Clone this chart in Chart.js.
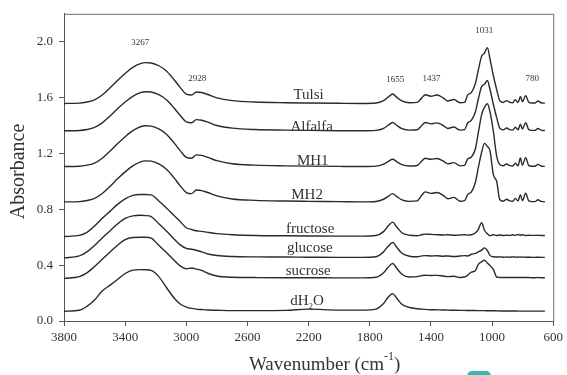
<!DOCTYPE html>
<html>
<head>
<meta charset="utf-8">
<script src="https://cdn.jsdelivr.net/npm/chart.js@4.4.1/dist/chart.umd.min.js"></script>
<style>
  html, body { margin: 0; padding: 0; background: #fff; }
  #wrap { position: relative; width: 567px; height: 375px; overflow: hidden; }
  #blob { position: absolute; left: 467px; top: 371px; width: 24px; height: 10px; border-radius: 5px; background: #3bb8b2; }
</style>
</head>
<body>
<div id="wrap">
  <canvas id="c" width="567" height="375"></canvas>
  <div id="blob"></div>
</div>
<script>
// ---- data ----
const wavenumbers = [3800,3700,3650,3600,3550,3500,3450,3400,3350,3300,
  3267,3230,3180,3130,3080,3040,3000,2965,2935,2900,
  2860,2800,2700,2550,2350,2200,2000,1850,1760,1710,
  1680,1650,1625,1590,1540,1490,1460,1437,1400,1360,
  1320,1290,1250,1210,1180,1160,1135,1110,1090,1068,
  1050,1031,1014,992,970,950,927,905,885,865,
  848,830,815,802,780,760,740,720,700,680,
  655];

const tulsi = [1.558,1.560,1.568,1.583,1.618,1.668,1.723,1.773,1.816,1.843,
  1.850,1.848,1.828,1.790,1.728,1.673,1.624,1.618,1.640,1.636,
  1.622,1.598,1.578,1.568,1.563,1.561,1.559,1.558,1.561,1.578,
  1.603,1.626,1.603,1.576,1.563,1.566,1.598,1.620,1.610,1.618,
  1.598,1.576,1.586,1.563,1.566,1.618,1.638,1.698,1.798,1.898,
  1.918,1.958,1.878,1.758,1.658,1.578,1.565,1.578,1.566,1.563,
  1.585,1.565,1.608,1.571,1.613,1.566,1.561,1.561,1.576,1.563,
  1.560];

const alfalfa = [1.362,1.364,1.371,1.386,1.419,1.467,1.520,1.568,1.609,1.635,
  1.642,1.640,1.621,1.585,1.525,1.472,1.426,1.420,1.442,1.438,
  1.424,1.400,1.381,1.371,1.367,1.365,1.363,1.362,1.365,1.380,
  1.402,1.422,1.402,1.378,1.367,1.370,1.400,1.422,1.412,1.419,
  1.400,1.379,1.389,1.367,1.370,1.418,1.438,1.495,1.590,1.680,
  1.695,1.722,1.660,1.552,1.456,1.382,1.369,1.382,1.370,1.367,
  1.388,1.369,1.410,1.375,1.420,1.370,1.365,1.365,1.379,1.367,
  1.364];

const mh1 = [1.106,1.108,1.116,1.131,1.166,1.216,1.270,1.320,1.363,1.391,
  1.398,1.396,1.376,1.338,1.276,1.220,1.172,1.166,1.190,1.186,
  1.172,1.148,1.126,1.116,1.111,1.109,1.107,1.106,1.109,1.124,
  1.142,1.158,1.142,1.120,1.110,1.114,1.146,1.166,1.158,1.164,
  1.146,1.125,1.134,1.111,1.114,1.160,1.175,1.230,1.350,1.480,
  1.530,1.556,1.500,1.360,1.180,1.120,1.112,1.124,1.113,1.110,
  1.130,1.112,1.168,1.116,1.170,1.112,1.108,1.108,1.122,1.110,
  1.107];

const mh2 = [0.853,0.855,0.863,0.878,0.913,0.963,1.018,1.068,1.111,1.140,
  1.147,1.145,1.125,1.087,1.025,0.968,0.920,0.912,0.938,0.934,
  0.920,0.896,0.874,0.864,0.859,0.857,0.855,0.853,0.856,0.872,
  0.892,0.912,0.893,0.868,0.857,0.860,0.900,0.925,0.914,0.920,
  0.900,0.876,0.885,0.858,0.862,0.905,0.925,0.990,1.100,1.210,
  1.272,1.250,1.220,1.050,1.000,0.870,0.858,0.872,0.860,0.858,
  0.878,0.860,0.905,0.862,0.915,0.860,0.855,0.855,0.868,0.857,
  0.854];

const fructose = [0.605,0.613,0.635,0.680,0.735,0.785,0.835,0.875,0.900,0.906,
  0.906,0.903,0.860,0.810,0.755,0.712,0.668,0.655,0.646,0.642,
  0.635,0.626,0.618,0.612,0.610,0.609,0.608,0.608,0.612,0.640,
  0.680,0.708,0.675,0.632,0.614,0.611,0.618,0.622,0.620,0.618,
  0.616,0.618,0.614,0.616,0.618,0.615,0.618,0.630,0.657,0.704,
  0.650,0.625,0.611,0.618,0.612,0.616,0.612,0.614,0.612,0.618,
  0.613,0.619,0.614,0.618,0.612,0.614,0.613,0.613,0.614,0.612,
  0.612];

const glucose = [0.452,0.466,0.495,0.540,0.595,0.645,0.695,0.735,0.753,0.757,
  0.755,0.748,0.697,0.645,0.588,0.545,0.520,0.514,0.507,0.495,
  0.480,0.469,0.462,0.459,0.458,0.457,0.456,0.456,0.460,0.495,
  0.535,0.562,0.530,0.485,0.464,0.460,0.466,0.468,0.466,0.467,
  0.464,0.466,0.462,0.465,0.468,0.466,0.478,0.484,0.495,0.508,
  0.524,0.505,0.470,0.460,0.458,0.459,0.457,0.458,0.457,0.459,
  0.457,0.458,0.457,0.458,0.457,0.457,0.456,0.456,0.457,0.456,
  0.456];

const sucrose = [0.305,0.318,0.345,0.390,0.442,0.493,0.543,0.583,0.598,0.600,
  0.600,0.594,0.542,0.490,0.435,0.395,0.374,0.380,0.372,0.362,
  0.342,0.322,0.313,0.311,0.310,0.310,0.309,0.309,0.313,0.345,
  0.385,0.412,0.380,0.335,0.315,0.318,0.325,0.328,0.326,0.327,
  0.322,0.318,0.320,0.312,0.315,0.328,0.350,0.360,0.405,0.425,
  0.435,0.415,0.398,0.370,0.315,0.312,0.311,0.312,0.311,0.312,
  0.311,0.312,0.311,0.312,0.311,0.311,0.310,0.310,0.311,0.310,
  0.310];

const dh2o = [0.070,0.077,0.105,0.150,0.215,0.255,0.297,0.340,0.364,0.368,
  0.367,0.362,0.318,0.240,0.165,0.122,0.100,0.090,0.085,0.082,
  0.079,0.077,0.074,0.074,0.076,0.085,0.078,0.078,0.085,0.125,
  0.170,0.196,0.165,0.120,0.097,0.088,0.085,0.083,0.081,0.080,
  0.079,0.078,0.077,0.076,0.076,0.075,0.075,0.075,0.074,0.074,
  0.074,0.073,0.073,0.073,0.073,0.072,0.072,0.072,0.072,0.072,
  0.072,0.071,0.071,0.071,0.071,0.071,0.071,0.071,0.071,0.071,
  0.071];

const seriesNames = ['Tulsi','Alfalfa','MH1','MH2','fructose','glucose','sucrose','dH₂O'];
const seriesValues = [tulsi, alfalfa, mh1, mh2, fructose, glucose, sucrose, dh2o];
// label anchor (wavenumber, absorbance) for each curve name
const nameX = [2200, 2180, 2173, 2210, 2190, 2192, 2203, 2210];
const nameY = [1.591, 1.360, 1.118, 0.877, 0.633, 0.491, 0.326, 0.113];

const peakLabels = ['3267','2928','1655','1437','1031','780'];
const peakX = [3302, 2928, 1634, 1396, 1052, 738];
const peakY = [1.974, 1.721, 1.709, 1.721, 2.059, 1.721];

const xTicks = [3800,3400,3000,2600,2200,1800,1400,1000,600];
const yTicks = [0.0,0.4,0.8,1.2,1.6,2.0];

// ---- rendering ----
const SERIF = '"Liberation Serif", "Times New Roman", serif';
const INK = '#333333';

function drawRich(ctx, text, x, y, size, align) {
  const supMap = {'⁻':'-','¹':'1'};
  const subMap = {'₂':'2'};
  const segs = [];
  for (const ch of text) {
    let kind = 'n', c = ch;
    if (supMap[ch]) { kind = 'sup'; c = supMap[ch]; }
    else if (subMap[ch]) { kind = 'sub'; c = subMap[ch]; }
    const last = segs[segs.length - 1];
    if (last && last.kind === kind) last.t += c; else segs.push({kind, t: c});
  }
  const fontFor = k => (k === 'n' ? size : Math.round(size * 0.62)) + 'px ' + SERIF;
  let total = 0;
  segs.forEach(s => { ctx.font = fontFor(s.kind); s.w = ctx.measureText(s.t).width; total += s.w; });
  let cx = align === 'center' ? x - total / 2 : x;
  ctx.textAlign = 'left';
  segs.forEach(s => {
    ctx.font = fontFor(s.kind);
    let dy = 0;
    if (s.kind === 'sup') dy = -size * 0.42;
    if (s.kind === 'sub') dy = size * 0.22;
    ctx.fillText(s.t, cx, y + dy);
    cx += s.w;
  });
}

const annotate = {
  id: 'annotate',
  afterDraw(chart) {
    const {ctx, chartArea: a, scales: {x, y}} = chart;
    ctx.save();
    // frame (top & right)
    ctx.strokeStyle = '#6a6a6a';
    ctx.lineWidth = 1;
    ctx.beginPath();
    ctx.moveTo(a.left, a.top + 0.5);
    ctx.lineTo(a.right + 0.5, a.top + 0.5);
    ctx.lineTo(a.right + 0.5, a.bottom);
    ctx.stroke();

    ctx.fillStyle = INK;
    ctx.textBaseline = 'alphabetic';
    // curve names
    seriesNames.forEach((n, i) => {
      drawRich(ctx, n, x.getPixelForValue(nameX[i]), y.getPixelForValue(nameY[i]), 15, 'center');
    });
    // peak labels
    peakLabels.forEach((p, i) => {
      drawRich(ctx, p, x.getPixelForValue(peakX[i]), y.getPixelForValue(peakY[i]), 9, 'center');
    });
    // axis titles
    ctx.textBaseline = 'middle';
    drawRich(ctx, 'Wavenumber (cm⁻¹)', (a.left + a.right) / 2 + 16, 365, 19, 'center');
    ctx.translate(19, (a.top + a.bottom) / 2 + 4);
    ctx.rotate(-Math.PI / 2);
    drawRich(ctx, 'Absorbance', 0, 0, 20, 'center');
    ctx.restore();
  }
};

const datasets = seriesValues.map((vals, i) => ({
  label: seriesNames[i],
  data: wavenumbers.map((w, j) => ({x: w, y: vals[j]})),
  borderColor: '#2a2a2a',
  borderWidth: 1.4,
  pointRadius: 0,
  fill: false,
  cubicInterpolationMode: 'monotone'
}));

new Chart(document.getElementById('c'), {
  type: 'line',
  data: {datasets},
  options: {
    responsive: false,
    animation: false,
    devicePixelRatio: 1,
    layout: {padding: {left: 0, right: 10, top: 10, bottom: 0}},
    plugins: {legend: {display: false}, tooltip: {enabled: false}},
    scales: {
      x: {
        type: 'linear', reverse: true, min: 600, max: 3800,
        afterBuildTicks: s => { s.ticks = xTicks.map(v => ({value: v})); },
        afterFit: s => { s.height = 54; },
        ticks: {color: INK, font: {family: SERIF, size: 13}, padding: 4, maxRotation: 0,
                callback: v => String(v)},
        grid: {display: true, drawOnChartArea: false, drawTicks: true, tickLength: 5, color: '#555'},
        border: {display: true, color: '#555', width: 1}
      },
      y: {
        type: 'linear', min: 0, max: 2.2,
        afterBuildTicks: s => { s.ticks = yTicks.map(v => ({value: v})); },
        afterFit: s => { s.width = 64; },
        ticks: {color: INK, font: {family: SERIF, size: 13}, padding: 6,
                callback: v => Number(v).toFixed(1)},
        grid: {display: true, drawOnChartArea: false, drawTicks: true, tickLength: 5, color: '#555'},
        border: {display: true, color: '#555', width: 1}
      }
    }
  },
  plugins: [annotate]
});
</script>
</body>
</html>
